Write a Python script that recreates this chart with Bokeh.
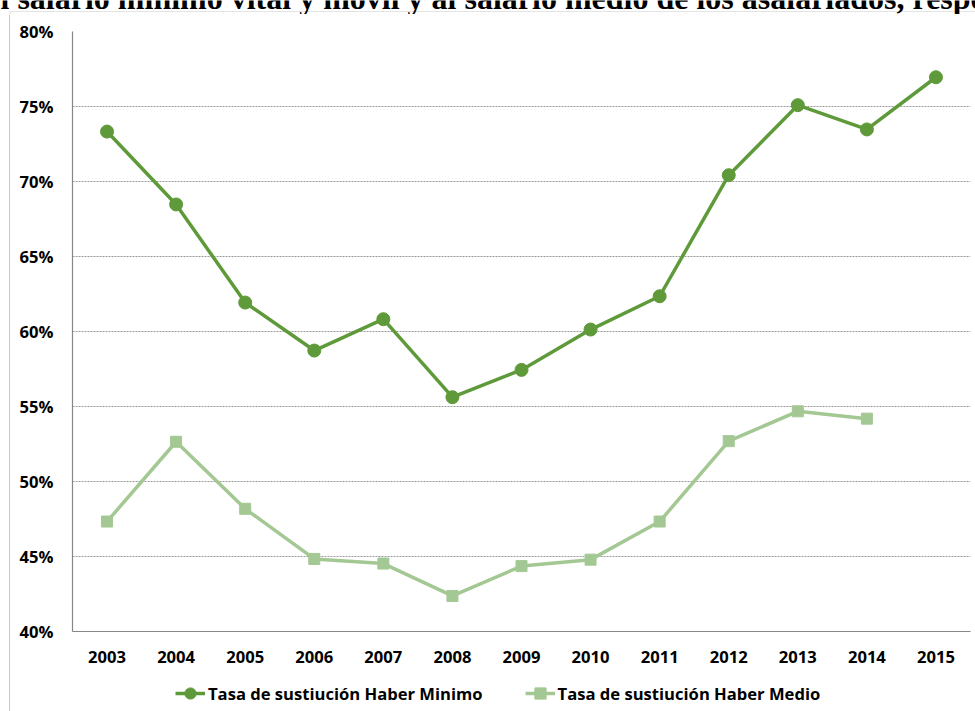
from bokeh.plotting import figure
from bokeh.layouts import column, row
from bokeh.models import (Range1d, FixedTicker, PrintfTickFormatter, Legend, LegendItem,
                          Label, BoxAnnotation, Span, ColumnDataSource)
from bokeh.embed import file_html
from bokeh.resources import INLINE

# Tasa de sustitución (%) por año
years = [2003, 2004, 2005, 2006, 2007, 2008, 2009, 2010, 2011, 2012, 2013, 2014, 2015]
haber_minimo = [73.33, 68.47, 61.93, 58.73, 60.82, 55.62, 57.44, 60.13, 62.35, 70.42, 75.09, 73.47, 76.95]
medio_years = [2003, 2004, 2005, 2006, 2007, 2008, 2009, 2010, 2011, 2012, 2013, 2014]
haber_medio = [47.33, 52.65, 48.18, 44.84, 44.53, 42.37, 44.36, 44.79, 47.33, 52.69, 54.68, 54.19]
y_ticks = [40, 45, 50, 55, 60, 65, 70, 75, 80]

title_text = "l salario mínimo vital y móvil y al salario medio de los asalariados, respe"
label_minimo = "Tasa de sustiución Haber Minimo"
label_medio = "Tasa de sustiución Haber Medio"

DARK = "#5F9A3A"
LIGHT = "#A4C893"
AXIS_GREY = "#878787"
BORDER_GREY = "#A6A6A6"
FONT = "Open Sans"
FONT_SIZE = "16.6px"

W, H = 975, 711
TITLE_H = 14          # heading strip
STRIP_W = 10          # left edge strip
PLOT_H = 665          # chart with axes
LEG_H = H - TITLE_H - PLOT_H
FRAME_LEFT = 72       # left edge of the plotting area on the page


def bare(width, height, x_range, y_range):
    fig = figure(width=width, height=height, output_backend="svg", toolbar_location=None,
                 title=None, x_axis_type=None, y_axis_type=None,
                 x_range=x_range, y_range=y_range, min_border=0)
    fig.grid.visible = False
    fig.outline_line_color = None
    return fig


# heading strip: text runs past both edges and is cut at the top
head = bare(W, TITLE_H, Range1d(0, W), Range1d(0, TITLE_H))
head.add_layout(Label(x=0, y=TITLE_H + 3, text=title_text,
                      text_font="Liberation Serif", text_font_style="bold",
                      text_font_size="32px", text_color="black",
                      text_align="left", text_baseline="alphabetic"))
# top-left corner of the chart box
head.add_layout(BoxAnnotation(left=STRIP_W - 0.5, right=W + 50, top=TITLE_H - 11, bottom=-50,
                              fill_alpha=0, line_color=BORDER_GREY, line_width=1.2,
                              level="underlay"))

# left edge of the chart box
strip = bare(STRIP_W, H - TITLE_H, Range1d(0, STRIP_W), Range1d(0, H - TITLE_H))
strip.add_layout(Span(location=STRIP_W - 0.5, dimension="height",
                      line_color=BORDER_GREY, line_width=1.2))

# main chart
p = figure(width=W - STRIP_W, height=PLOT_H, output_backend="svg", toolbar_location=None,
           title=None, x_range=Range1d(2002.5, 2015.5), y_range=Range1d(40, 80),
           min_border_left=FRAME_LEFT - STRIP_W, min_border_right=5,
           min_border_top=31 - TITLE_H, min_border_bottom=PLOT_H - (631 - TITLE_H))
p.outline_line_color = None
p.background_fill_color = "white"
p.border_fill_color = "white"

p.xaxis.ticker = FixedTicker(ticks=years)
p.xaxis.formatter = PrintfTickFormatter(format="%d")
p.yaxis.ticker = FixedTicker(ticks=y_ticks)
p.yaxis.formatter = PrintfTickFormatter(format="%d%%")
for ax in (p.xaxis, p.yaxis):
    ax.axis_line_color = AXIS_GREY
    ax.axis_line_width = 1.2
    ax.major_tick_line_color = None
    ax.minor_tick_line_color = None
    ax.major_tick_out = 0
    ax.major_tick_in = 0
    ax.major_label_text_font = FONT
    ax.major_label_text_font_style = "bold"
    ax.major_label_text_font_size = FONT_SIZE
    ax.major_label_text_color = "black"
p.xaxis.major_label_standoff = 19
p.yaxis.major_label_standoff = 19

p.xgrid.grid_line_color = None
p.ygrid.ticker = FixedTicker(ticks=y_ticks)
p.ygrid.grid_line_color = "#9A9A9A"
p.ygrid.grid_line_dash = "2 1"
p.ygrid.grid_line_width = 1

src_min = ColumnDataSource(dict(x=years, y=haber_minimo))
src_med = ColumnDataSource(dict(x=medio_years, y=haber_medio))

line_min = dict(line_color=DARK, line_width=3.5)
dot_min = dict(marker="circle", size=13, fill_color=DARK, line_color=DARK)
line_med = dict(line_color=LIGHT, line_width=3.5)
dot_med = dict(marker="square", size=11, fill_color=LIGHT, line_color=LIGHT)

p.line("x", "y", source=src_min, **line_min)
p.scatter("x", "y", source=src_min, **dot_min)
p.line("x", "y", source=src_med, **line_med)
p.scatter("x", "y", source=src_med, **dot_med)

# legend strip under the chart; its series fall outside its own range, so only
# the legend entries are visible
leg = bare(W - STRIP_W, LEG_H, Range1d(2002.5, 2015.5), Range1d(0, 1))
k1 = leg.line("x", "y", source=src_min, **line_min)
k2 = leg.scatter("x", "y", source=src_min, **dot_min)
k3 = leg.line("x", "y", source=src_med, **line_med)
k4 = leg.scatter("x", "y", source=src_med, **dot_med)
legend = Legend(items=[LegendItem(label=label_minimo, renderers=[k1, k2]),
                       LegendItem(label=label_medio, renderers=[k3, k4])],
                location=(175 - FRAME_LEFT, 4), orientation="horizontal",
                glyph_width=30, glyph_height=28, label_height=28,
                label_standoff=3, spacing=42, padding=0, margin=0,
                border_line_color=None, background_fill_alpha=0,
                label_text_font=FONT, label_text_font_style="bold",
                label_text_font_size=FONT_SIZE, label_text_color="black")
leg.add_layout(legend, "center")

layout = column(head, row(strip, column(p, leg, spacing=0), spacing=0), spacing=0)
open("out.html", "w").write(file_html(layout, INLINE))
